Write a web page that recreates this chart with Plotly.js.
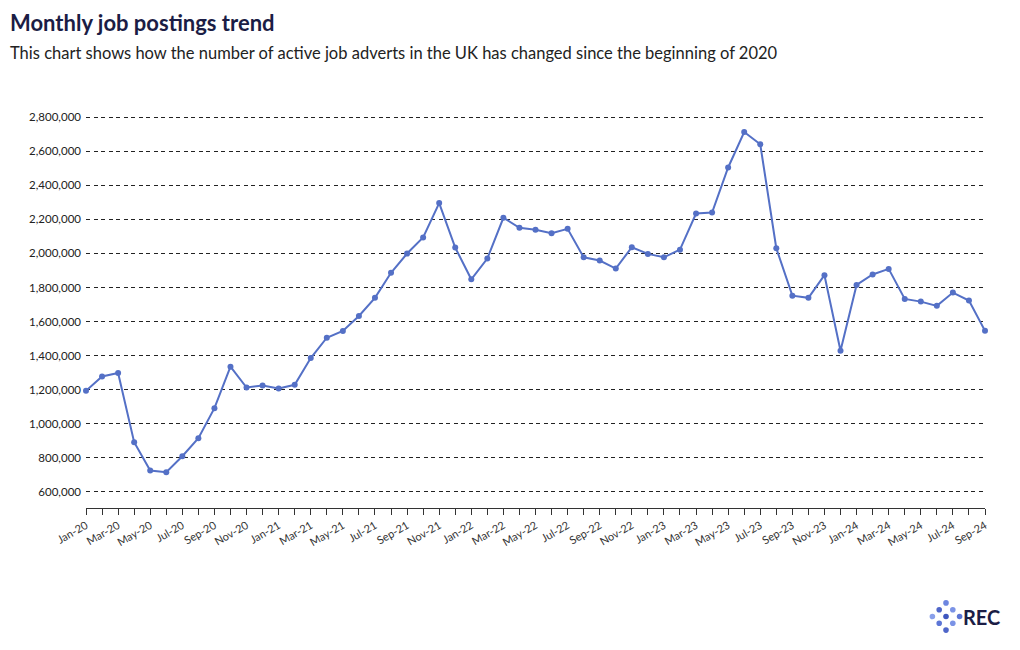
<!DOCTYPE html>
<html>
<head>
<meta charset="utf-8">
<script src="https://cdn.plot.ly/plotly-3.0.1.min.js"></script>
<style>
html,body{margin:0;padding:0;background:#fff;}
#chart{width:1020px;height:650px;}
</style>
</head>
<body>
<div id="chart"></div>
<script>
const months = ["Jan-20","Feb-20","Mar-20","Apr-20","May-20","Jun-20","Jul-20","Aug-20","Sep-20","Oct-20","Nov-20","Dec-20",
"Jan-21","Feb-21","Mar-21","Apr-21","May-21","Jun-21","Jul-21","Aug-21","Sep-21","Oct-21","Nov-21","Dec-21",
"Jan-22","Feb-22","Mar-22","Apr-22","May-22","Jun-22","Jul-22","Aug-22","Sep-22","Oct-22","Nov-22","Dec-22",
"Jan-23","Feb-23","Mar-23","Apr-23","May-23","Jun-23","Jul-23","Aug-23","Sep-23","Oct-23","Nov-23","Dec-23",
"Jan-24","Feb-24","Mar-24","Apr-24","May-24","Jun-24","Jul-24","Aug-24","Sep-24"];

const postings = [1194000,1278000,1298000,892000,726000,716000,810000,916000,1092000,1335000,1213000,1225000,
1207000,1229000,1386000,1505000,1545000,1633000,1739000,1886000,1999000,2093000,2295000,2034000,
1848000,1970000,2209000,2150000,2138000,2118000,2144000,1977000,1958000,1911000,2036000,1997000,
1977000,2022000,2234000,2240000,2504000,2712000,2640000,2030000,1752000,1739000,1872000,1429000,
1815000,1876000,1909000,1733000,1717000,1692000,1770000,1723000,1546000];

const yTicks = [600000,800000,1000000,1200000,1400000,1600000,1800000,2000000,2200000,2400000,2600000,2800000];

const xIdx = months.map((m,i)=>i);
const labelIdx = xIdx.filter(i=>i%2===0);
const labelText = labelIdx.map(i=>months[i]);

const FONT = "Lato, 'Noto Sans', sans-serif";

// logo: diamond of dots (offsets in grid units)
const logoDots = [[0,-2],[-1,-1],[1,-1],[-2,0],[0,0],[2,0],[-1,1],[1,1],[0,2]];
const logoColors = ["#6d86e0","#4f66c9","#7b93e6","#8aa0ea","#3f57bf","#5d76d6","#5d76d6","#7b93e6","#4f66c9"];

const plotL=86, plotR=985, plotT=100, plotB=508;
const pw=plotR-plotL, ph=plotB-plotT;
function px(x){return (x-plotL)/pw;}
function py(y){return (plotB-y)/ph;}

const shapes = logoDots.map((d,i)=>{
  const cx=946+d[0]*6.8, cy=616.5+d[1]*6.8, r=2.8;
  return {type:'circle', xref:'paper', yref:'paper',
    x0:px(cx-r), x1:px(cx+r), y0:py(cy+r), y1:py(cy-r),
    fillcolor:logoColors[i], line:{width:0}};
});

const trace = {
  x: xIdx, y: postings, type:'scatter', mode:'lines+markers',
  line:{color:'#5470c6', width:2},
  marker:{color:'#5470c6', size:6},
  cliponaxis:false, hoverinfo:'skip'
};

const layout = {
  width:1020, height:650,
  paper_bgcolor:'#fff', plot_bgcolor:'#fff',
  margin:{l:plotL, r:1020-plotR, t:plotT, b:650-plotB},
  showlegend:false,
  font:{family:FONT, color:'#222'},
  title:{text:'<b>Monthly job postings trend</b>', x:10/1020, xanchor:'left', xref:'container',
         y:1-23/650, yanchor:'middle', yref:'container',
         font:{family:FONT, size:22, color:'#1b1d45'}},
  xaxis:{
    range:[0, months.length-1], showgrid:false, zeroline:false,
    showline:true, linecolor:'#333', linewidth:1,
    tickmode:'array', tickvals:labelIdx, ticktext:labelText,
    ticks:'outside', ticklen:6, tickcolor:'#333', tickwidth:1,
    minor:{dtick:1, tick0:0, ticks:'outside', ticklen:6, tickcolor:'#333', tickwidth:1, showgrid:false},
    tickangle:-30, tickfont:{family:FONT, size:11, color:'#333'}
  },
  yaxis:{
    range:[506000, 2900000], tickmode:'array', tickvals:yTicks,
    tickformat:',d', showline:false, zeroline:false, ticks:'',
    showgrid:true, gridcolor:'#222', gridwidth:1, griddash:'4px,3.5px',
    tickfont:{family:FONT, size:11.5, color:'#222'}, ticklabelstandoff:4
  },
  shapes: shapes,
  annotations:[
    {text:'This chart shows how the number of active job adverts in the UK has changed since the beginning of 2020',
     xref:'paper', yref:'paper', x:px(8), y:py(53), xanchor:'left', yanchor:'middle', showarrow:false,
     font:{family:FONT, size:16.5, color:'#222'}},
    {text:'<b>REC</b>', xref:'paper', yref:'paper', x:px(961), y:py(617), xanchor:'left', yanchor:'middle',
     showarrow:false, font:{family:FONT, size:20, color:'#1b1d45'}}
  ]
};

Plotly.newPlot('chart',[trace],layout,{displayModeBar:false, staticPlot:true});
</script>
</body>
</html>
